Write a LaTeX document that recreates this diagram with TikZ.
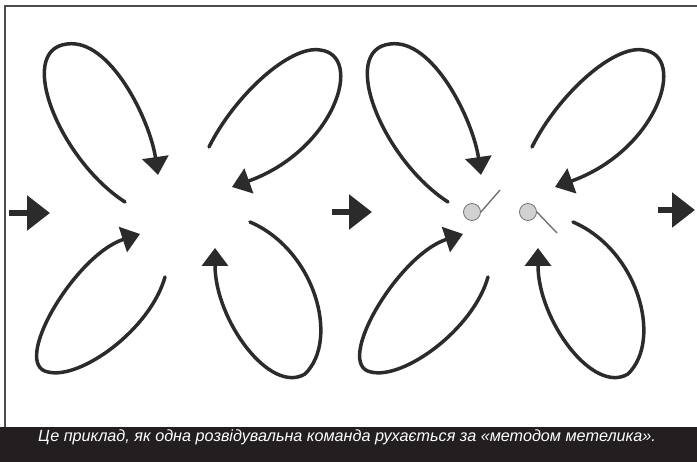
\documentclass[tikz,border=0pt]{standalone}
\usepackage{fontspec}
\setsansfont{Liberation Sans}
\usetikzlibrary{arrows.meta}
\definecolor{ink}{HTML}{2B2B2B}
\definecolor{bar}{HTML}{231F20}

\begin{document}
\begin{tikzpicture}[x=1pt, y=-1pt, >={Triangle[width=26pt, length=18pt]},
    petal/.style={->, line width=3.5pt, draw=ink, fill=none, line cap=round},
    march/.style={-{Triangle[width=34pt, length=23pt]}, line width=6pt, draw=ink},
    soldier/.style={circle, draw=black!55, fill=black!18, line width=0.8pt, minimum size=17pt, inner sep=0pt},
    rifle/.style={draw=black!55, line width=1.4pt}]
    \useasboundingbox (0,0) rectangle (697,462);

    % Frame and caption bar
    \draw[line width=2pt, draw=black!70] (5,427) -- (5,6) -- (697,6);
    \fill[bar] (0,427) rectangle (697,462);
    \node[anchor=base, text=white, inner sep=0pt,
          font=\sffamily\itshape\fontsize{16.2}{19}\selectfont] (caption) at (347,442)
        {Це приклад, як одна розвідувальна команда рухається за «методом метелика».};

    % Moves between the loops
    \coordinate (m1a) at (9,213);   \coordinate (m1b) at (50,213);
    \coordinate (m2a) at (332,212); \coordinate (m2b) at (372,212);
    \coordinate (m3a) at (658,210); \coordinate (m3b) at (695,210);
    \draw[march] (m1a) -- (m1b);
    \draw[march] (m2a) -- (m2b);
    \draw[march] (m3a) -- (m3b);

    % Two butterflies
    \foreach \g/\dx in {a/0, b/323} {
      \begin{scope}[xshift=\dx]
        \coordinate (\g-tl-tail) at (125,202);
        \coordinate (\g-tl-top)  at (67,44);
        \coordinate (\g-tl-tip)  at (158,175);
        \coordinate (\g-tr-tail) at (209,147);
        \coordinate (\g-tr-top)  at (320,50);
        \coordinate (\g-tr-tip)  at (232,187);
        \coordinate (\g-bl-tail) at (165,277);
        \coordinate (\g-bl-low)  at (48,372);
        \coordinate (\g-bl-tip)  at (140,234);
        \coordinate (\g-br-tail) at (250,222);
        \coordinate (\g-br-low)  at (305,374);
        \coordinate (\g-br-tip)  at (215,248);

        \draw[petal] (\g-tl-tail) .. controls (60,160) and (15,50) .. (\g-tl-top)
                                  .. controls (110,38) and (150,120) .. (\g-tl-tip);
        \draw[petal] (\g-tr-tail) .. controls (235,95) and (290,45) .. (\g-tr-top)
                                  .. controls (365,55) and (335,150) .. (\g-tr-tip);
        \draw[petal] (\g-bl-tail) .. controls (150,330) and (80,380) .. (\g-bl-low)
                                  .. controls (10,365) and (75,255) .. (\g-bl-tip);
        \draw[petal] (\g-br-tail) .. controls (315,250) and (340,340) .. (\g-br-low)
                                  .. controls (270,395) and (215,320) .. (\g-br-tip);
      \end{scope}
    }

    % The team
    \node[soldier] (s1) at (472,212) {};
    \node[soldier] (s2) at (528,212) {};
    \coordinate (r1) at (500,190);
    \coordinate (r2) at (557,233);
    \draw[rifle] (s1.east) -- (r1);
    \draw[rifle] (s2.east) -- (r2);
\end{tikzpicture}
\end{document}
